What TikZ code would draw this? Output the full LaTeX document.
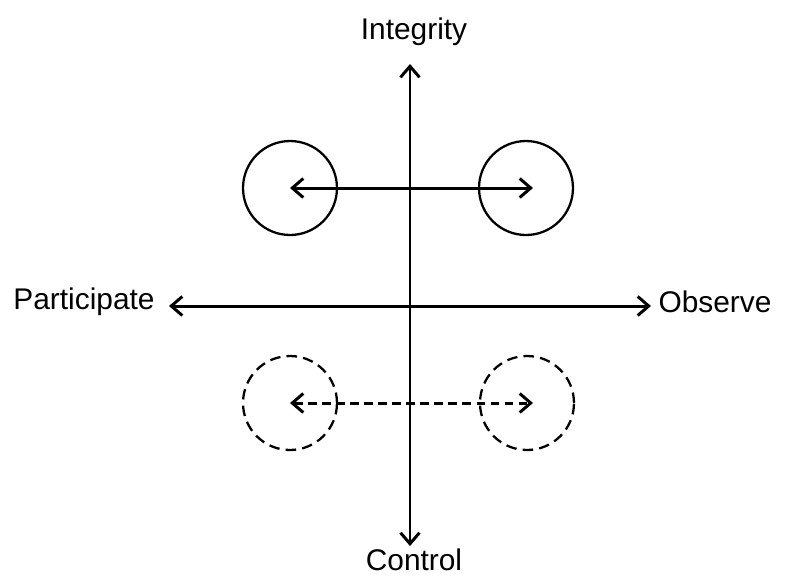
\documentclass[tikz,border=0pt]{standalone}
\usepackage{fontspec}
\setmainfont{Liberation Sans}
\usetikzlibrary{arrows.meta, positioning}

\begin{document}
\begin{tikzpicture}[x=0.02cm, y=-0.02cm,
          ring/.style={draw, circle, minimum size=1.88cm, inner sep=0pt, line width=1.3pt},
          ar/.style={{Straight Barb[length=2.2mm, width=3.8mm]}-{Straight Barb[length=2.2mm, width=3.8mm]}, line width=1.7pt},
          lbl/.style={font=\fontsize{17}{20}\selectfont}
        ]
        \useasboundingbox (0,0) rectangle (789,576);
        % axis labels
        \node[lbl] (integ) at (414,32) {Integrity};
        \node[lbl] (ctrl) at (414,560) {Control};
        \node[lbl] (part) at (84,302) {Participate};
        \node[lbl] (obs) at (715,302) {Observe};
        % axis ends
        \coordinate (vtop) at (410,64);
        \coordinate (vbot) at (410,546);
        \coordinate (hl) at (169,306);
        \coordinate (hr) at (651,306);
        \draw[ar] (vtop) -- (vbot);
        \draw[ar] (hl) -- (hr);
        % circles
        \node[ring] (tl) at (290,188) {};
        \node[ring] (tr) at (526,188) {};
        \node[ring, dashed, dash pattern=on 6pt off 3.5pt] (bl) at (290,403) {};
        \node[ring, dashed, dash pattern=on 6pt off 3.5pt] (br) at (527,403) {};
        \draw[ar] (tl.center) -- ([xshift=0.14cm]tr.center);
        \draw[ar, dash pattern=on 5pt off 3pt] (bl.center) -- ([xshift=0.12cm]br.center);
      \end{tikzpicture}
\end{document}
